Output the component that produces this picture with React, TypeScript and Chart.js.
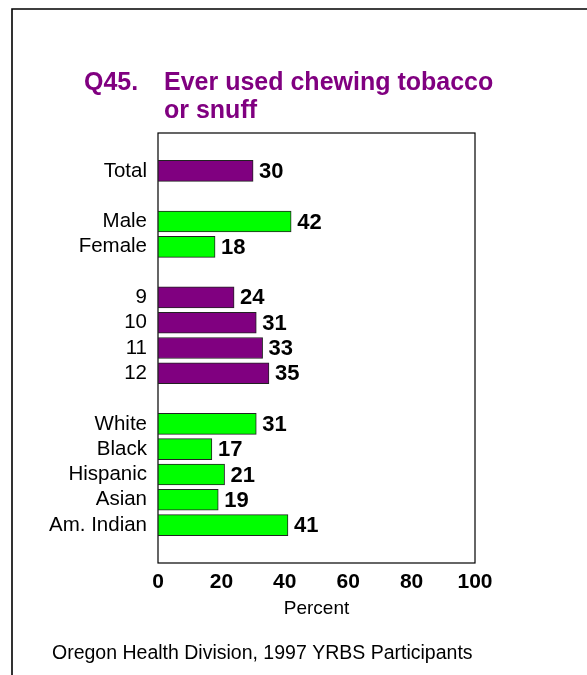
import React, { useEffect, useRef } from "react";
import { Chart, registerables } from "chart.js";

Chart.register(...registerables);

const categories = ["", "Total", "", "Male", "Female", "", "9", "10", "11", "12", "", "White", "Black", "Hispanic", "Asian", "Am. Indian", ""];
const values: (number | null)[] = [null, 30, null, 42, 18, null, 24, 31, 33, 35, null, 31, 17, 21, 19, 41, null];
const groups = ["", "total", "", "sex", "sex", "", "grade", "grade", "grade", "grade", "", "race", "race", "race", "race", "race", ""];
const xTicks = [0, 20, 40, 60, 80, 100];
const titleNumber = "Q45.";
const titleLines = ["Ever used chewing tobacco", "or snuff"];
const axisTitle = "Percent";
const footer = "Oregon Health Division, 1997 YRBS Participants";

const PURPLE = "#800080";
const GREEN = "#00FF00";
const FONT = "Arial, 'Liberation Sans', Helvetica, sans-serif";

const colorFor = (g: string) => (g === "sex" || g === "race" ? GREEN : PURPLE);

export default function App() {
  const ref = useRef<HTMLCanvasElement | null>(null);

  useEffect(() => {
    const canvas = ref.current;
    if (!canvas) return;

    const decor = {
      id: "decor",
      beforeDatasetsDraw(chart: any) {
        const { ctx, chartArea } = chart;
        ctx.save();
        ctx.strokeStyle = "#000";
        ctx.lineWidth = 1.2;
        ctx.strokeRect(chartArea.left, chartArea.top, chartArea.right - chartArea.left, chartArea.bottom - chartArea.top);
        ctx.restore();
      },
      afterDraw(chart: any) {
        const { ctx, chartArea } = chart;
        ctx.save();
        // outer frame
        ctx.strokeStyle = "#000";
        ctx.lineWidth = 1.6;
        ctx.beginPath();
        ctx.moveTo(12, 675);
        ctx.lineTo(12, 9);
        ctx.lineTo(587, 9);
        ctx.stroke();
        // title
        ctx.fillStyle = PURPLE;
        ctx.font = `bold 25px ${FONT}`;
        ctx.textBaseline = "middle";
        ctx.textAlign = "left";
        ctx.fillText(titleNumber, 84, 83);
        ctx.fillText(titleLines[0], 164, 83);
        ctx.fillText(titleLines[1], 164, 111);
        // axis title
        ctx.fillStyle = "#000";
        ctx.font = `19px ${FONT}`;
        ctx.textAlign = "center";
        ctx.fillText(axisTitle, (chartArea.left + chartArea.right) / 2, 609);
        // footer
        ctx.textAlign = "left";
        ctx.font = `19.5px ${FONT}`;
        ctx.fillText(footer, 52, 654);
        ctx.restore();
      },
      afterDatasetsDraw(chart: any) {
        const { ctx } = chart;
        const meta = chart.getDatasetMeta(0);
        ctx.save();
        ctx.fillStyle = "#000";
        ctx.font = `bold 22px ${FONT}`;
        ctx.textBaseline = "middle";
        ctx.textAlign = "left";
        meta.data.forEach((el: any, i: number) => {
          const v = values[i];
          if (v === null || v === undefined) return;
          ctx.fillText(String(v), el.x + 6, el.y + 1);
        });
        ctx.restore();
      },
    };

    const chart = new Chart(canvas, {
      type: "bar",
      data: {
        labels: categories,
        datasets: [
          {
            data: values as any,
            backgroundColor: groups.map(colorFor),
            borderColor: "#222",
            borderWidth: 1,
            borderSkipped: false,
            barThickness: 21,
          },
        ],
      },
      options: {
        indexAxis: "y",
        responsive: false,
        animation: false,
        layout: { padding: { left: 0, top: 133, right: 112, bottom: 0 } },
        plugins: {
          legend: { display: false },
          tooltip: { enabled: false },
          title: { display: false },
        },
        scales: {
          x: {
            min: 0,
            max: 100,
            afterBuildTicks: (s: any) => {
              s.ticks = xTicks.map((v) => ({ value: v }));
            },
            afterFit: (s: any) => {
              s.height = 112;
            },
            grid: { display: false, drawTicks: false },
            border: { display: false },
            ticks: {
              padding: 7,
              color: "#000",
              font: { family: FONT, size: 21, weight: "bold" },
              maxRotation: 0,
              autoSkip: false,
            },
          },
          y: {
            afterFit: (s: any) => {
              s.width = 158;
            },
            grid: { display: false, drawTicks: false },
            border: { display: false },
            ticks: {
              padding: 11,
              color: "#000",
              font: { family: FONT, size: 20.5 },
              autoSkip: false,
            },
          },
        },
      },
      plugins: [decor],
    } as any);

    return () => chart.destroy();
  }, []);

  return (
    <div style={{ position: "fixed", left: 0, top: 0, width: 587, height: 675, background: "#fff" }}>
      <canvas ref={ref} width={587} height={675} style={{ width: 587, height: 675, display: "block" }} />
    </div>
  );
}
